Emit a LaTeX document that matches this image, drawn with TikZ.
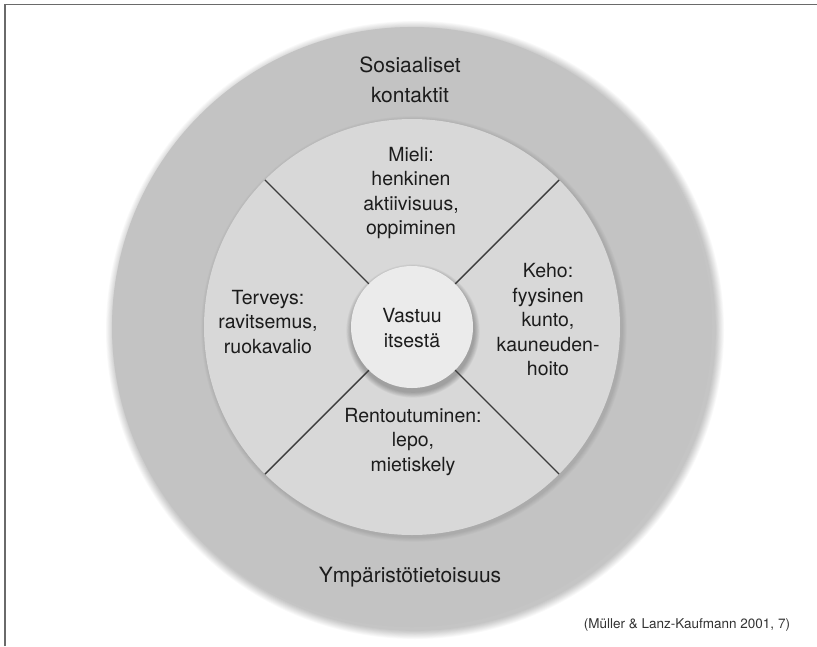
\documentclass[tikz,border=0pt]{standalone}
\usepackage{fontspec}
\setmainfont{TeX Gyre Heros}
\definecolor{framegray}{HTML}{6A6A6A}
\definecolor{ringgray}{HTML}{C3C3C3}
\definecolor{discgray}{HTML}{D8D8D8}
\definecolor{coregray}{HTML}{EBEBEB}
\definecolor{divgray}{HTML}{3C3C3C}
\definecolor{ink}{HTML}{1C1C1C}
\definecolor{citeink}{HTML}{333333}
\begin{document}
\begin{tikzpicture}[x=1pt,y=-1pt,
  every node/.style={inner sep=0pt, outer sep=0pt},
  plate/.style={circle, minimum size=#1},
  divider/.style={draw=divgray, line width=1.4pt},
  innertext/.style={text=ink, align=center, font=\fontsize{19.5}{24.5}\selectfont},
  outertext/.style={text=ink, align=center, font=\fontsize{21}{30}\selectfont},
  citetext/.style={text=citeink, font=\fontsize{13.5}{16}\selectfont}
]
\useasboundingbox (0,0) rectangle (817,646);
\fill[white] (0,0) rectangle (817,646);

% frame edges
\draw[framegray, line width=1.5pt] (5,646) -- (5,4.5) -- (817,4.5);

% soft shadow below the outer ring
\foreach \k in {1,...,10}
  \fill[black, opacity=0.025] (415,330) circle ({300+\k*0.9});

\node[plate=600pt, fill=ringgray] (ring) at (412,327) {};

% soft shadow below the middle disc
\foreach \k in {1,...,6}
  \fill[black, opacity=0.02] (414,329) circle ({208+\k*0.8});
\node[plate=416pt, fill=discgray] (disc) at (412,327) {};

% soft shadow below the centre circle
\foreach \k in {1,...,7}
  \fill[black, opacity=0.04] (413,331) circle ({61+\k*0.8});
\node[plate=122pt, fill=coregray] (core) at (412,327) {};

% dividers between the four quarters
\draw[divider] (core.45) -- (disc.45);
\draw[divider] (core.135) -- (disc.135);
\draw[divider] (core.225) -- (disc.225);
\draw[divider] (core.315) -- (disc.315);

% labels
\node[outertext] (soc) at (410,80) {Sosiaaliset\\kontaktit};
\node[outertext] (env) at (410,577) {Ympäristötietoisuus};
\node[innertext] (mind) at (411,193) {Mieli:\\henkinen\\aktiivisuus,\\oppiminen};
\node[innertext] (health) at (268,322) {Terveys:\\ravitsemus,\\ruokavalio};
\node[innertext] (body) at (548,320) {Keho:\\fyysinen\\kunto,\\kauneuden-\\hoito};
\node[innertext] (rest) at (413,442) {Rentoutuminen:\\lepo,\\mietiskely};
\node[innertext] (self) at (412,328) {Vastuu\\itsestä};
\node[citetext, anchor=east] (cite) at (790,625) {(Müller \& Lanz-Kaufmann 2001, 7)};
\end{tikzpicture}
\end{document}
